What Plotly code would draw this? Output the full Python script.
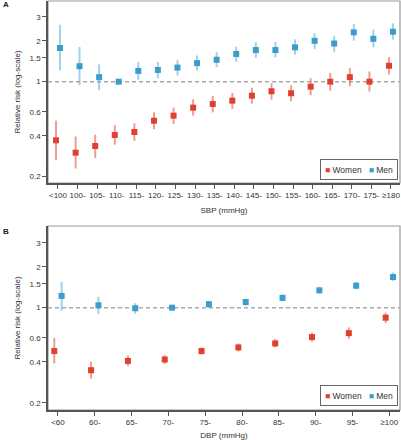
import plotly.graph_objects as go

# ---------------- data ----------------
sbp_labels = ["<100", "100-", "105-", "110-", "115-", "120-", "125-", "130-", "135-",
              "140-", "145-", "150-", "155-", "160-", "165-", "170-", "175-", "≥180"]
women_sbp = [0.37, 0.30, 0.336, 0.405, 0.426, 0.516, 0.562, 0.644, 0.685, 0.725,
             0.789, 0.85, 0.822, 0.919, 1.00, 1.08, 1.00, 1.31]
women_sbp_lo = [0.264, 0.229, 0.274, 0.344, 0.366, 0.446, 0.489, 0.562, 0.595, 0.629,
                0.689, 0.737, 0.717, 0.794, 0.859, 0.925, 0.844, 1.13]
women_sbp_hi = [0.516, 0.394, 0.407, 0.478, 0.494, 0.595, 0.644, 0.742, 0.785, 0.826,
                0.903, 0.973, 0.94, 1.06, 1.16, 1.26, 1.19, 1.52]
men_sbp = [1.77, 1.30, 1.08, 1.00, 1.20, 1.22, 1.27, 1.37, 1.45, 1.60,
           1.71, 1.71, 1.79, 2.00, 1.91, 2.31, 2.07, 2.33]
men_sbp_lo = [1.21, 0.94, 0.865, 1.00, 1.03, 1.06, 1.11, 1.21, 1.28, 1.40,
              1.50, 1.51, 1.58, 1.74, 1.65, 2.00, 1.79, 2.04]
men_sbp_hi = [2.62, 1.80, 1.34, 1.00, 1.39, 1.40, 1.44, 1.56, 1.65, 1.81,
              1.95, 1.96, 2.05, 2.27, 2.18, 2.66, 2.42, 2.69]

dbp_labels = ["<60", "60-", "65-", "70-", "75-", "80-", "85-", "90-", "95-", "≥100"]
women_dbp = [0.48, 0.347, 0.406, 0.416, 0.48, 0.51, 0.546, 0.608, 0.65, 0.844]
women_dbp_lo = [0.389, 0.301, 0.373, 0.386, 0.453, 0.477, 0.51, 0.561, 0.59, 0.771]
women_dbp_hi = [0.597, 0.40, 0.445, 0.448, 0.51, 0.546, 0.587, 0.654, 0.717, 0.919]
men_dbp = [1.22, 1.04, 0.99, 1.00, 1.06, 1.10, 1.18, 1.34, 1.45, 1.68]
men_dbp_lo = [0.95, 0.90, 0.90, 1.00, 1.00, 1.03, 1.11, 1.27, 1.36, 1.57]
men_dbp_hi = [1.55, 1.20, 1.08, 1.00, 1.12, 1.16, 1.25, 1.42, 1.55, 1.81]

ytick_vals = [0.2, 0.4, 0.6, 1, 1.5, 2, 3]
ytick_text = ["0.2", "0.4", "0.6", "1", "1.5", "2", "3"]

# ---------------- style ----------------
RED = "#e0402f"
RED_L = "rgba(230,90,75,0.6)"
BLUE = "#3b9dcc"
BLUE_L = "rgba(90,170,215,0.55)"
FONT = "Liberation Sans, Arial, sans-serif"
TXT = "#333333"
W, H = 401, 440


def px_x(p):
    return p / W


def px_y(p):
    return 1 - p / H


fig = go.Figure()


def add_series(labels, vals, lo, hi, off, color, lcolor, name, xa, ya):
    x = [i + off for i in range(len(labels))]
    fig.add_trace(go.Scatter(
        x=x, y=vals, mode="markers", name=name, showlegend=False,
        xaxis=xa, yaxis=ya,
        marker=dict(symbol="square", size=6, color=color, line=dict(width=0)),
        error_y=dict(type="data", symmetric=False,
                     array=[h - v for h, v in zip(hi, vals)],
                     arrayminus=[v - l for l, v in zip(lo, vals)],
                     color=lcolor, thickness=2, width=0),
    ))


def add_ref(xa, ya, rng):
    fig.add_trace(go.Scatter(x=[rng[0], rng[1]], y=[1, 1], mode="lines",
                             showlegend=False, xaxis=xa, yaxis=ya, hoverinfo="skip",
                             line=dict(color="#aaaaaa", width=1.5, dash="4px,3px")))


xrA = [-0.51, len(sbp_labels) - 1 + 0.46]
xrB = [-0.27, len(dbp_labels) - 1 + 0.29]

add_ref("x", "y", xrA)
add_series(sbp_labels, women_sbp, women_sbp_lo, women_sbp_hi, -0.1, RED, RED_L, "Women", "x", "y")
add_series(sbp_labels, men_sbp, men_sbp_lo, men_sbp_hi, 0.1, BLUE, BLUE_L, "Men", "x", "y")

add_ref("x2", "y2", xrB)
add_series(dbp_labels, women_dbp, women_dbp_lo, women_dbp_hi, -0.1, RED, RED_L, "Women", "x2", "y2")
add_series(dbp_labels, men_dbp, men_dbp_lo, men_dbp_hi, 0.1, BLUE, BLUE_L, "Men", "x2", "y2")

xdom = [px_x(48), px_x(400)]
ydomA = [px_y(183), px_y(1)]
ydomB = [px_y(410), px_y(226)]

axis_common = dict(showgrid=False, zeroline=False, showline=True, linecolor="#555555",
                   linewidth=1.5, ticks="outside", ticklen=4, tickcolor="#555555",
                   tickwidth=1, tickfont=dict(family=FONT, size=8, color=TXT),
                   tickangle=0, automargin=False)

yax = dict(axis_common, type="log", range=[-0.746, 0.594], tickvals=ytick_vals,
           ticktext=ytick_text,
           title=dict(text="Relative risk (log-scale)", font=dict(family=FONT, size=8, color=TXT),
                      standoff=8))

fig.update_layout(
    width=W, height=H, margin=dict(l=0, r=0, t=0, b=0),
    paper_bgcolor="white", plot_bgcolor="white",
    xaxis=dict(axis_common, domain=xdom, anchor="y", range=xrA,
               tickvals=list(range(len(sbp_labels))), ticktext=sbp_labels,
               title=dict(text="SBP (mmHg)", font=dict(family=FONT, size=8, color=TXT), standoff=8)),
    yaxis=dict(yax, domain=ydomA, anchor="x"),
    xaxis2=dict(axis_common, domain=xdom, anchor="y2", range=xrB,
                tickvals=list(range(len(dbp_labels))), ticktext=dbp_labels,
                title=dict(text="DBP (mmHg)", font=dict(family=FONT, size=8, color=TXT), standoff=8)),
    yaxis2=dict(yax, domain=ydomB, anchor="x2", range=[-0.752, 0.6]),
    showlegend=False,
)

# light frame (top / right borders)
for xr, yr in [("x domain", "y domain"), ("x2 domain", "y2 domain")]:
    fig.add_shape(type="rect", xref=xr, yref=yr, x0=0, x1=1, y0=0, y1=1,
                  line=dict(color="#999999", width=1.2), layer="below")

legend_text = ("<span style='color:%s'>■</span> Women   <span style='color:%s'>■</span> Men"
               % (RED, BLUE))
for ybot in [180.3, 405.7]:
    fig.add_annotation(xref="paper", yref="paper", x=px_x(398), y=px_y(ybot),
                       xanchor="right", yanchor="bottom", showarrow=False,
                       text=legend_text, font=dict(family=FONT, size=8.5, color=TXT),
                       width=70, height=13, borderpad=3, bordercolor="#666666",
                       borderwidth=1, bgcolor="white", align="center")

for lab, yy in [("A", 5), ("B", 232)]:
    fig.add_annotation(xref="paper", yref="paper", x=px_x(1), y=px_y(yy),
                       xanchor="left", yanchor="middle", showarrow=False,
                       text="<b>%s</b>" % lab, font=dict(family=FONT, size=8, color="#222"))

fig.write_html("out.html", config={"displayModeBar": False},
               post_script="document.body.style.margin='0px';")
